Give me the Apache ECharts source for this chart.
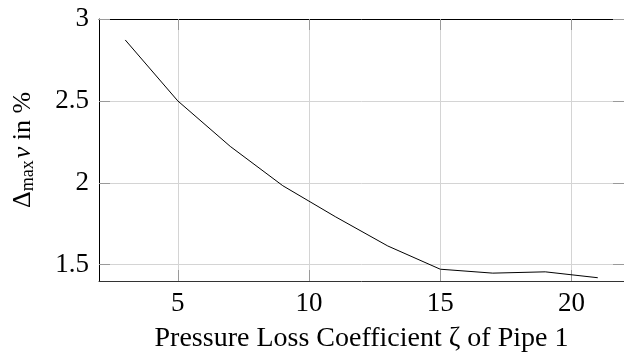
<!DOCTYPE html>
<html>
<head>
<meta charset="utf-8">
<script src="https://cdn.jsdelivr.net/npm/echarts@6/dist/echarts.min.js"></script>
<style>
  html, body { margin: 0; padding: 0; background: #fff; }
  #chart { width: 624px; height: 358px; }
</style>
</head>
<body>
<div id="chart"></div>
<script>
// Pressure loss coefficient of pipe 1
const zeta = [3, 5, 7, 9, 11, 13, 15, 17, 19, 21];
// Maximum deviation of v, in percent
const deltaMaxV = [2.872, 2.50, 2.222, 1.982, 1.793, 1.614, 1.472, 1.448, 1.456, 1.42];
const xTicks = [5, 10, 15, 20];
const yTicks = [1.5, 2, 2.5, 3];

const serif = '"Liberation Serif", "DejaVu Serif", serif';
const tickStyle = { show: true, inside: true, length: 11, lineStyle: { color: '#9a9a9a', width: 1 } };
const gridStyle = { show: true, lineStyle: { color: '#d4d4d4', width: 1 } };

const chart = echarts.init(document.getElementById('chart'), null, { renderer: 'canvas' });
chart.setOption({
  animation: false,
  backgroundColor: '#ffffff',
  grid: { left: 99, top: 19, width: 530, height: 265, containLabel: false },
  xAxis: [
    {
      type: 'value', min: 2, max: 22, interval: 1,
      axisLine: { show: true, onZero: false, lineStyle: { color: '#333', width: 1 } },
      axisTick: Object.assign({}, tickStyle, { customValues: xTicks }),
      axisLabel: { customValues: xTicks, color: '#000', fontFamily: serif, fontSize: 27, margin: 9 },
      splitLine: gridStyle,
      name: 'Pressure Loss Coefficient \u03B6 of Pipe 1',
      nameLocation: 'middle', nameGap: 44,
      nameTextStyle: { color: '#000', fontFamily: serif, fontSize: 28 }
    },
    {
      type: 'value', position: 'top', min: 2, max: 22, interval: 1,
      axisLine: { show: true, onZero: false, lineStyle: { color: '#000', width: 1 } },
      axisTick: Object.assign({}, tickStyle, { customValues: xTicks }),
      axisLabel: { show: false },
      splitLine: { show: false }
    }
  ],
  yAxis: [
    {
      type: 'value', min: 1.4, max: 3, interval: 0.1,
      axisLine: { show: true, onZero: false, lineStyle: { color: '#000', width: 1 } },
      axisTick: Object.assign({}, tickStyle, { customValues: yTicks }),
      axisLabel: { customValues: yTicks, color: '#000', fontFamily: serif, fontSize: 27, margin: 10,
                   formatter: v => String(Math.round(v * 10) / 10) },
      splitLine: gridStyle,
      name: '\u0394{sub|max}{it|v} in %',
      nameLocation: 'middle', nameGap: 62, nameRotate: 90,
      nameTextStyle: {
        color: '#000', fontFamily: serif, fontSize: 26,
        rich: {
          sub: { fontFamily: serif, fontSize: 18, color: '#000', verticalAlign: 'bottom', padding: [10, 0, 0, 0] },
          it: { fontFamily: serif, fontSize: 26, fontStyle: 'italic', color: '#000', padding: [0, 0, 0, 2] }
        }
      }
    },
    {
      type: 'value', position: 'right', min: 1.4, max: 3, interval: 0.1,
      axisLine: { show: true, onZero: false, lineStyle: { color: '#000', width: 1 } },
      axisTick: Object.assign({}, tickStyle, { customValues: yTicks }),
      axisLabel: { show: false },
      splitLine: { show: false }
    }
  ],
  series: [{
    type: 'line',
    data: zeta.map((z, i) => [z, deltaMaxV[i]]),
    showSymbol: false,
    lineStyle: { color: '#000', width: 1 },
    silent: true
  }]
});
</script>
</body>
</html>
